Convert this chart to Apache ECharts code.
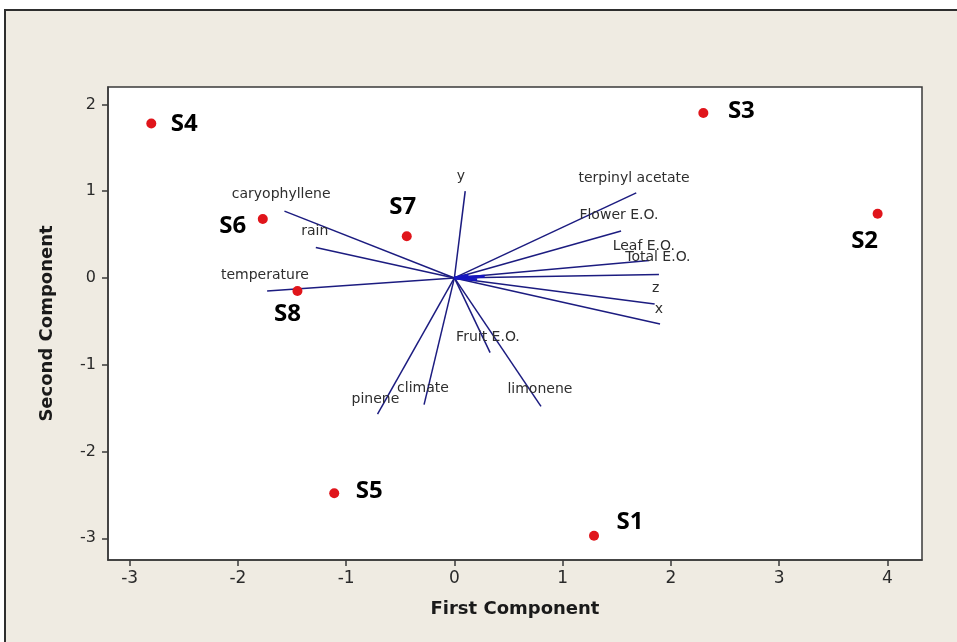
<!DOCTYPE html>
<html><head><meta charset="utf-8">
<script src="https://cdn.jsdelivr.net/npm/echarts@6/dist/echarts.min.js"></script>
<style>html,body{margin:0;padding:0;background:#fff}#c{width:957px;height:642px}</style>
</head><body><div id="c"></div>
<script>
// ---- data ----
const sampleNames = ['S1', 'S2', 'S3', 'S4', 'S5', 'S6', 'S7', 'S8'];
const sampleX = [1.29, 3.91, 2.30, -2.80, -1.11, -1.77, -0.44, -1.45];
const sampleY = [-2.97, 0.74, 1.90, 1.78, -2.48, 0.68, 0.48, -0.15];

const loadingNames = ['caryophyllene', 'rain', 'temperature', 'y', 'terpinyl acetate', 'Flower E.O.',
  'Leaf E.O.', 'Total E.O.', 'z', 'x', 'Fruit E.O.', 'climate', 'pinene', 'limonene'];
const loadingX = [-1.57, -1.28, -1.73, 0.10, 1.68, 1.54, 1.80, 1.89, 1.85, 1.90, 0.33, -0.28, -0.71, 0.80];
const loadingY = [0.77, 0.35, -0.15, 1.00, 0.98, 0.54, 0.20, 0.04, -0.30, -0.53, -0.86, -1.46, -1.57, -1.48];
const loadingLabelX = [-1.60, -1.29, -1.75, 0.06, 1.66, 1.52, 1.75, 1.88, 1.86, 1.89, 0.31, -0.29, -0.73, 0.79];
const loadingLabelY = [0.96, 0.54, 0.03, 1.17, 1.15, 0.72, 0.36, 0.24, -0.12, -0.36, -0.68, -1.27, -1.40, -1.28];

// short unlabeled vectors near the origin
const shortX = [0.28, 0.21, 0.13];
const shortY = [0.02, -0.02, 0.03];

const xTicks = [-3, -2, -1, 0, 1, 2, 3, 4];
const yTicks = [-3, -2, -1, 0, 1, 2];
const xName = 'First Component';
const yName = 'Second Component';

// ---- presentation ----
const sampleLabelOffset = {
  S1: [36, -14], S2: [-13, 27], S3: [38, -2], S4: [33, 1],
  S5: [35, -2], S6: [-30, 7], S7: [-4, -29], S8: [-10, 23]
};
const lineColor = '#1c1c80';
const tickFont = "'DejaVu Sans', sans-serif";

const chart = echarts.init(document.getElementById('c'), null, {renderer: 'canvas'});

const vectorData = loadingNames.map((n, i) => ({coords: [[0, 0], [loadingX[i], loadingY[i]]]}));
const shortData = shortX.map((v, i) => ({coords: [[0, 0], [v, shortY[i]]]}));

chart.setOption({
  animation: false,
  backgroundColor: '#ffffff',
  graphic: {
    elements: [{
      type: 'rect', z: -100, silent: true,
      shape: {x: 5, y: 10, width: 1000, height: 700},
      style: {fill: '#efebe2', stroke: '#2e2e2e', lineWidth: 2}
    }]
  },
  grid: {
    left: 108, top: 87, width: 814, height: 473,
    show: true, backgroundColor: '#ffffff', borderColor: '#3a3a3a', borderWidth: 1.5
  },
  xAxis: {
    type: 'value', min: -3.2, max: 4.32,
    name: xName, nameLocation: 'middle', nameGap: 40,
    nameTextStyle: {fontFamily: tickFont, fontWeight: 'bold', fontSize: 18, color: '#1a1a1a'},
    axisLine: {show: true, onZero: false, lineStyle: {color: '#3a3a3a', width: 1.5}},
    axisTick: {show: true, length: 6, customValues: xTicks, lineStyle: {color: '#3a3a3a', width: 1.5}},
    axisLabel: {customValues: xTicks, margin: 10, fontFamily: tickFont, fontSize: 17, color: '#2a2a2a'},
    splitLine: {show: false}
  },
  yAxis: {
    type: 'value', min: -3.25, max: 2.2,
    name: yName, nameLocation: 'middle', nameGap: 52, nameRotate: 90,
    nameTextStyle: {fontFamily: tickFont, fontWeight: 'bold', fontSize: 18, color: '#1a1a1a'},
    axisLine: {show: true, onZero: false, lineStyle: {color: '#3a3a3a', width: 1.5}},
    axisTick: {show: true, length: 6, customValues: yTicks, lineStyle: {color: '#3a3a3a', width: 1.5}},
    axisLabel: {customValues: yTicks, margin: 12, fontFamily: tickFont, fontSize: 16, color: '#2a2a2a'},
    splitLine: {show: false}
  },
  series: [
    {
      type: 'lines', coordinateSystem: 'cartesian2d', polyline: false, silent: true,
      lineStyle: {color: lineColor, width: 1.5, opacity: 1},
      data: vectorData, z: 3
    },
    {
      type: 'lines', coordinateSystem: 'cartesian2d', polyline: false, silent: true,
      lineStyle: {color: '#1616c0', width: 3, opacity: 1},
      data: shortData, z: 3
    },
    {
      type: 'scatter', symbolSize: 0, silent: true, z: 4,
      itemStyle: {opacity: 1},
      data: loadingNames.map((n, i) => ({name: n, value: [loadingLabelX[i], loadingLabelY[i]]})),
      label: {
        show: true, position: 'inside', formatter: p => p.name, opacity: 1,
        fontFamily: tickFont, fontSize: 14, color: '#2e2e2e'
      }
    },
    {
      type: 'scatter', symbol: 'circle', symbolSize: 10, z: 5,
      itemStyle: {color: '#e0151b', opacity: 1},
      data: sampleNames.map((n, i) => ({
        name: n, value: [sampleX[i], sampleY[i]],
        label: {offset: sampleLabelOffset[n]}
      })),
      label: {
        show: true, position: 'inside', formatter: p => p.name, opacity: 1,
        fontFamily: "'Open Sans', 'Liberation Sans', sans-serif", fontWeight: 'bold', fontSize: 24, color: '#000'
      }
    }
  ]
});
</script>
</body></html>
